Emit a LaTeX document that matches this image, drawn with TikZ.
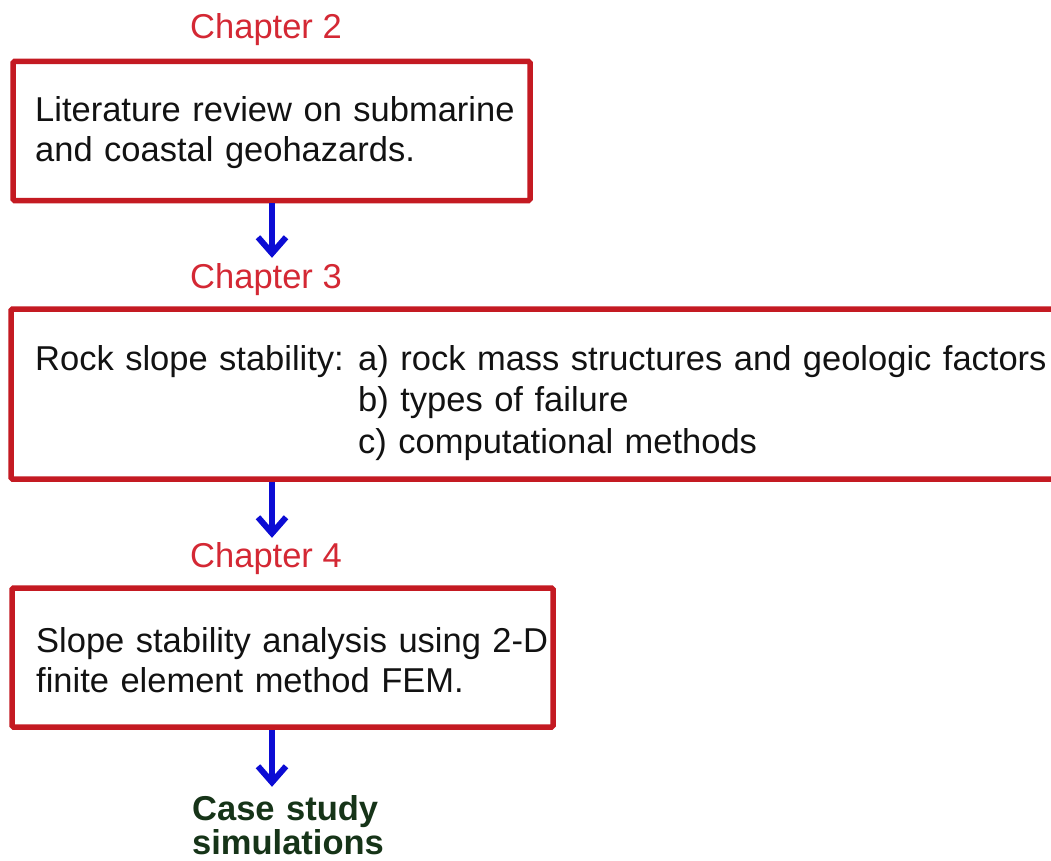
\documentclass[tikz,border=0pt]{standalone}
\usepackage{fontspec}
\setmainfont{Liberation Sans}
\usetikzlibrary{arrows.meta}
\definecolor{boxred}{RGB}{196,26,34}
\definecolor{chapred}{RGB}{212,40,52}
\definecolor{arrblue}{RGB}{12,12,212}
\definecolor{casegreen}{RGB}{22,52,24}
\definecolor{bodyblack}{RGB}{18,18,18}
\begin{document}
\begin{tikzpicture}[x=1pt,y=-1pt,
  chapter/.style={font=\fontsize{34.5}{40}\selectfont, text=chapred, inner sep=0pt, anchor=base},
  chapbox/.style={draw=boxred, line width=5.5pt, rounded corners=1.5pt, inner sep=0pt},
  bodytext/.style={font=\fontsize{34.5}{40}\selectfont, text=bodyblack, inner sep=0pt,
                   anchor=base west, align=left, text width=600pt},
  flow/.style={draw=arrblue, line width=6pt, -{Straight Barb[length=16pt,width=28pt]}},
]
\useasboundingbox (0,0) rectangle (1051,861);
\fill[white] (0,0) rectangle (1051,861);

% chapter labels
\node[chapter] (ch2) at (266,39) {Chapter 2};
\node[chapter] (ch3) at (266,288) {Chapter 3};
\node[chapter] (ch4) at (266,567) {Chapter 4};

% boxes
\node[chapbox, minimum width=517pt, minimum height=139pt] (b1) at (271.5,131) {};
\node[chapbox, minimum width=1049pt, minimum height=170pt] (b2) at (535.5,394) {};
\node[chapbox, minimum width=541pt, minimum height=139pt] (b3) at (282.5,657.5) {};

% box texts
\node[bodytext] (t1) at (35,122) {Literature review on submarine\\and coastal geohazards.};
\node[bodytext] (t2a) at (35,370) {Rock slope stability:};
\node[bodytext, text width=760pt, font=\fontsize{34.5}{41.5}\selectfont] (t2b) at (358,370)
  {a) rock mass structures and geologic factors\\b) types of failure\\c) computational methods};
\node[bodytext] (t3) at (36,652) {Slope stability analysis using 2-D\\finite element method FEM.};

% final result
\node[anchor=base west, font=\bfseries\fontsize{34.5}{34}\selectfont, text=casegreen,
      inner sep=0pt, text width=300pt, align=left] (cs) at (192,820) {Case study\\simulations};

% arrows
\coordinate (ax) at (272,0);
\draw[flow] (b1.south -| ax) -- ([yshift=5pt]ch3.north -| ax);
\draw[flow] (b2.south -| ax) -- ([yshift=4pt]ch4.north -| ax);
\draw[flow] (b3.south -| ax) -- ([yshift=8pt]cs.north -| ax);
\end{tikzpicture}
\end{document}
